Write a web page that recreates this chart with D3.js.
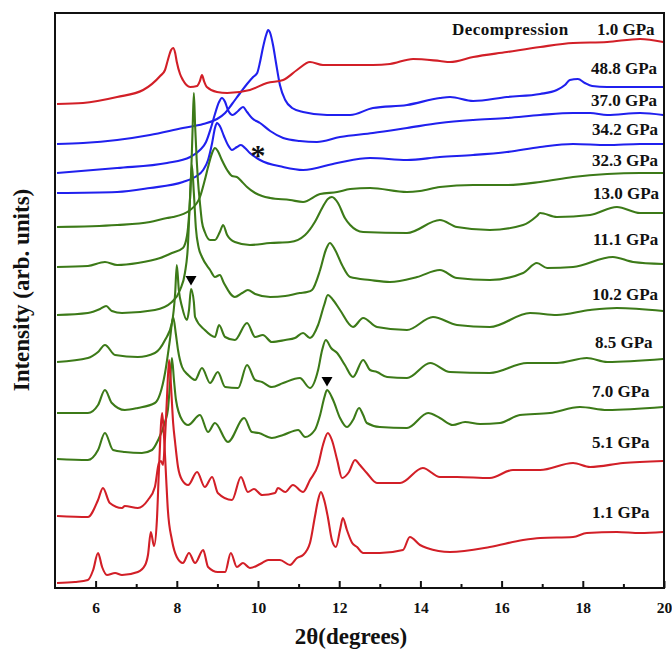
<!DOCTYPE html>
<html>
<head>
<meta charset="utf-8">
<script src="https://cdn.jsdelivr.net/npm/d3@7"></script>
<style>
  html, body { margin: 0; padding: 0; background: #fff; }
  svg { display: block; }
  text { font-family: "Liberation Serif", "Times New Roman", serif; font-weight: bold; fill: #111; }
</style>
</head>
<body>
<svg id="chart" width="672" height="652"></svg>
<script>
// ---- Data: XRD patterns, [2θ (deg), stacked intensity (arb. units)] ----
const p1_1 = [[5.05,5],[5.49,6],[5.81,8],[5.94,18],[6.06,35],[6.16,21],[6.28,13],[6.48,15],[6.65,13],[7.04,16],[7.22,23],[7.29,33],[7.36,56],[7.44,42],[7.51,68],[7.56,118],[7.64,175],[7.69,148],[7.74,108],[7.78,78],[7.88,48],[8.0,31],[8.15,25],[8.3,35],[8.45,25],[8.65,38],[8.77,21],[9.01,16],[9.19,16],[9.33,35],[9.48,21],[9.63,25],[9.8,20],[10.1,25],[10.25,28],[10.54,28],[10.79,23],[10.96,30],[11.11,33],[11.28,45],[11.4,71],[11.48,88],[11.55,96],[11.63,88],[11.72,71],[11.82,48],[11.92,41],[12.02,58],[12.09,70],[12.19,58],[12.32,45],[12.44,41],[12.59,35],[13.0,35],[13.57,38],[13.74,51],[13.99,43],[14.16,40],[14.73,36],[15.71,41],[16.53,48],[16.95,50],[17.76,51],[18.1,55],[18.84,56],[19.41,55],[19.98,56]];

const p5_1 = [[5.05,72],[5.81,71],[6.06,88],[6.18,100],[6.35,85],[6.65,80],[6.72,82],[7.04,80],[7.29,88],[7.46,101],[7.56,125],[7.61,127],[7.66,123],[7.71,150],[7.76,192],[7.81,228],[7.86,200],[7.91,165],[7.96,145],[8.03,121],[8.13,108],[8.28,103],[8.5,116],[8.69,101],[8.87,111],[9.01,95],[9.36,88],[9.58,111],[9.75,96],[9.9,99],[10.1,93],[10.42,95],[10.49,100],[10.67,96],[10.86,103],[11.11,96],[11.28,108],[11.48,123],[11.6,143],[11.72,155],[11.82,148],[11.95,128],[12.07,110],[12.24,116],[12.39,128],[12.51,123],[12.68,115],[12.93,105],[13.5,105],[14.06,120],[14.48,111],[14.9,111],[15.71,110],[16.28,118],[16.95,118],[17.76,125],[18.18,121],[18.99,125],[19.98,127]];

const p7_0 = [[5.05,129],[5.81,128],[6.06,138],[6.23,155],[6.43,138],[6.72,136],[7.14,135],[7.39,138],[7.54,148],[7.71,166],[7.78,178],[7.83,203],[7.88,230],[7.93,208],[7.98,188],[8.13,168],[8.28,163],[8.57,173],[8.77,156],[8.94,165],[9.26,146],[9.66,170],[9.85,156],[10.02,155],[10.34,150],[10.62,153],[10.99,158],[11.16,151],[11.4,158],[11.53,173],[11.63,190],[11.7,198],[11.85,188],[12.02,170],[12.19,161],[12.34,168],[12.49,180],[12.59,173],[12.68,165],[13.0,161],[13.67,160],[14.19,175],[14.48,170],[14.8,163],[15.1,166],[15.47,164],[15.96,165],[16.45,173],[17.19,175],[17.93,181],[18.6,178],[19.98,181]];

const p8_5 = [[5.05,175],[5.81,175],[6.06,183],[6.23,198],[6.4,185],[6.72,178],[7.04,180],[7.46,185],[7.71,215],[7.83,248],[7.91,271],[7.98,253],[8.03,238],[8.13,221],[8.28,213],[8.45,208],[8.62,220],[8.82,205],[9.01,216],[9.19,201],[9.51,200],[9.73,223],[9.93,208],[10.1,206],[10.34,201],[10.62,205],[11.03,210],[11.28,200],[11.48,218],[11.58,238],[11.67,248],[11.8,240],[11.95,235],[12.14,223],[12.34,211],[12.59,228],[12.76,218],[12.93,216],[13.18,211],[13.67,210],[14.24,225],[14.73,216],[15.71,215],[16.63,225],[17.36,225],[18.1,230],[18.6,226],[19.98,229]];

const p10_2 = [[5.05,226],[5.81,230],[6.06,236],[6.23,243],[6.48,233],[7.04,231],[7.46,235],[7.71,248],[7.88,265],[7.96,295],[8.0,323],[8.05,298],[8.13,281],[8.25,268],[8.3,278],[8.35,299],[8.42,286],[8.45,271],[8.69,258],[8.94,251],[9.04,263],[9.19,251],[9.43,248],[9.73,265],[9.93,251],[10.12,253],[10.34,246],[10.67,248],[10.91,250],[11.11,255],[11.28,250],[11.48,263],[11.63,283],[11.72,293],[11.85,288],[12.02,278],[12.34,261],[12.59,270],[12.93,261],[13.67,258],[14.31,271],[14.9,263],[15.71,261],[16.7,275],[17.36,273],[18.18,278],[18.84,280],[19.98,277]];

const p11_1 = [[5.05,273],[5.81,275],[6.11,279],[6.26,282],[6.4,277],[6.65,275],[7.46,278],[7.88,286],[8.08,298],[8.2,315],[8.27,340],[8.32,385],[8.37,423],[8.42,395],[8.47,360],[8.54,340],[8.62,331],[8.82,318],[8.94,311],[9.06,313],[9.16,305],[9.43,291],[9.61,295],[9.75,298],[9.93,294],[10.3,291],[10.67,292],[11.03,295],[11.21,296],[11.33,298],[11.53,318],[11.67,338],[11.77,345],[11.9,338],[12.07,323],[12.27,311],[12.76,308],[13.25,306],[13.92,311],[14.48,318],[14.9,310],[15.71,308],[16.53,315],[16.87,325],[17.12,320],[17.76,321],[18.74,331],[19.24,326],[19.98,324]];

const p13_0 = [[5.05,321],[5.81,322],[6.23,326],[6.53,323],[7.04,325],[7.59,330],[7.88,335],[8.15,340],[8.25,352],[8.3,372],[8.35,410],[8.39,460],[8.42,495],[8.45,463],[8.49,428],[8.52,408],[8.57,385],[8.62,366],[8.69,356],[8.82,348],[8.94,348],[9.06,356],[9.14,363],[9.24,353],[9.43,346],[9.8,343],[10.3,345],[10.79,346],[11.16,353],[11.4,366],[11.58,380],[11.72,389],[11.82,391],[11.97,385],[12.14,370],[12.27,363],[12.59,356],[13.67,355],[14.48,368],[14.9,361],[15.71,358],[16.53,363],[16.87,372],[16.95,375],[17.36,371],[18.18,373],[18.84,381],[19.41,375],[19.98,375]];

const p32_3 = [[5.05,361],[6.53,363],[7.34,366],[7.76,370],[7.91,371],[8.33,378],[8.57,391],[8.69,408],[8.77,421],[8.87,435],[8.94,440],[9.01,437],[9.11,428],[9.24,418],[9.36,412],[9.48,411],[9.61,406],[9.73,401],[9.93,395],[10.1,392],[10.3,390],[10.79,388],[11.11,386],[11.53,394],[11.95,396],[12.27,399],[12.76,400],[13.67,396],[13.99,397],[14.48,401],[15.3,403],[16.13,403],[16.95,406],[17.76,411],[18.6,414],[19.41,415],[19.98,415]];

const p34_2 = [[5.05,395],[6.53,396],[7.34,400],[8.15,406],[8.45,411],[8.65,418],[8.77,428],[8.87,445],[8.94,460],[8.99,465],[9.06,462],[9.16,452],[9.26,443],[9.36,438],[9.48,441],[9.58,443],[9.68,440],[9.8,435],[10.05,428],[10.62,421],[11.11,418],[11.95,425],[12.76,430],[13.67,428],[14.48,431],[15.3,433],[16.13,436],[16.95,441],[17.76,444],[18.6,443],[19.41,444],[19.98,444]];

const p37_0 = [[5.05,415],[6.53,420],[7.76,425],[8.33,431],[8.57,438],[8.72,446],[8.84,460],[8.94,474],[9.04,486],[9.11,490],[9.19,486],[9.26,478],[9.38,473],[9.51,477],[9.63,481],[9.73,476],[9.85,470],[10.05,465],[10.3,457],[10.62,450],[11.03,447],[11.45,446],[12.02,451],[12.83,455],[13.67,460],[14.48,465],[15.3,468],[16.13,470],[16.95,473],[17.76,475],[18.18,475],[18.6,473],[19.41,475],[19.98,473]];

const p48_8 = [[5.05,444],[5.69,445],[6.53,448],[7.34,453],[8.15,460],[8.65,464],[8.99,469],[9.19,475],[9.36,484],[9.56,495],[9.73,504],[9.88,511],[9.98,515],[10.05,526],[10.12,540],[10.2,553],[10.25,558],[10.3,555],[10.37,543],[10.44,526],[10.54,503],[10.67,488],[10.84,480],[11.11,476],[11.7,473],[12.27,473],[12.83,480],[13.67,483],[14.48,490],[14.73,491],[15.3,487],[16.13,491],[16.95,494],[17.36,498],[17.56,503],[17.68,508],[17.88,509],[18.05,505],[18.23,502],[18.6,501],[19.41,501],[19.98,501]];

const dec1_0 = [[5.05,484],[5.69,485],[6.53,491],[7.17,498],[7.59,512],[7.71,518],[7.78,528],[7.86,538],[7.91,540],[7.96,535],[8.0,526],[8.08,514],[8.15,508],[8.33,501],[8.5,502],[8.57,507],[8.62,513],[8.67,507],[8.74,501],[8.99,496],[9.24,495],[9.8,498],[10.22,505],[10.62,508],[10.96,518],[11.28,526],[11.6,523],[12.27,523],[12.83,523],[13.25,524],[13.82,529],[14.48,527],[14.73,526],[15.3,531],[16.13,536],[16.95,541],[17.76,545],[18.6,546],[19.41,549],[19.98,546]];

// pressure labels and phase of each pattern (bottom to top)
const pressureLabels = ["1.1 GPa","5.1 GPa","7.0 GPa","8.5 GPa","10.2 GPa","11.1 GPa","13.0 GPa","32.3 GPa","34.2 GPa","37.0 GPa","48.8 GPa","1.0 GPa"];
const phases = ["low","low","mid","mid","mid","mid","mid","mid","high","high","high","low"];
const patterns = [p1_1,p5_1,p7_0,p8_5,p10_2,p11_1,p13_0,p32_3,p34_2,p37_0,p48_8,dec1_0];

// peaks flagged with a down-pointing triangle: [2θ, intensity]
const markedPeaks = [[8.35,299],[11.7,198]];
// asterisk annotation position: [2θ, intensity]
const asteriskAt = [10.0, 437];

const majorTicks = [6,8,10,12,14,16,18,20];
const minorTicks = [7,9,11,13,15,17,19];

// ---- Styles / layout ----
const phaseColor = { low: "#d21f27", mid: "#3c7a18", high: "#2020ee" };
const drawOrder = ["high","mid","low"];
const labelX = [592,592,592,595,592,593,593,592,592,591,591,597];
const labelBaseline = [518,448,397,348,300,245,199,166,135,106,74,35];

const svg = d3.select("#chart");
const plotL = 55, plotR = 664, plotT = 13, plotB = 588;

const x = d3.scaleLinear().domain([5, 20]).range([plotL, plotR]);
const y = d3.scaleLinear().domain([0, 575]).range([plotB, plotT]);

svg.append("defs").append("clipPath").attr("id", "plot")
  .append("rect").attr("x", plotL).attr("y", plotT).attr("width", plotR - plotL).attr("height", plotB - plotT);

const line = d3.line().x(d => x(d[0])).y(d => y(d[1])).curve(d3.curveMonotoneX);

const gCurves = svg.append("g").attr("clip-path", "url(#plot)");
drawOrder.forEach(ph => {
  patterns.forEach((pts, i) => {
    if (phases[i] !== ph) return;
    gCurves.append("path")
      .datum(pts)
      .attr("d", line)
      .attr("fill", "none")
      .attr("stroke", phaseColor[ph])
      .attr("stroke-width", 2.1)
      .attr("stroke-linejoin", "round");
  });
});

// triangle markers above flagged peaks
svg.append("g").selectAll("path").data(markedPeaks).join("path")
  .attr("d", d => {
    const cx = x(d[0]), cy = y(d[1]);
    return `M${cx - 5.5},${cy - 13}L${cx + 5.5},${cy - 13}L${cx},${cy - 3.5}Z`;
  })
  .attr("fill", "#000");

// asterisk
svg.append("text")
  .attr("x", x(asteriskAt[0])).attr("y", y(asteriskAt[1]) + 14)
  .attr("text-anchor", "middle")
  .style("font-size", "30px")
  .text("*");

// frame
svg.append("rect")
  .attr("x", plotL).attr("y", plotT).attr("width", plotR - plotL).attr("height", plotB - plotT)
  .attr("fill", "none").attr("stroke", "#111").attr("stroke-width", 2);

// x axis: inward major and minor ticks
const xAxis = d3.axisBottom(x).tickValues(majorTicks).tickSize(-7).tickPadding(14).tickFormat(d3.format("d"));
const gx = svg.append("g").attr("transform", `translate(0,${plotB})`).call(xAxis);
gx.select(".domain").remove();
gx.selectAll(".tick line").attr("stroke", "#111").attr("stroke-width", 2);
gx.selectAll(".tick text").style("font-size", "15.5px").style("font-family", "Liberation Serif").style("font-weight", "bold").attr("fill", "#111");

const gxm = svg.append("g").attr("transform", `translate(0,${plotB})`)
  .call(d3.axisBottom(x).tickValues(minorTicks).tickSize(-4).tickFormat(""));
gxm.select(".domain").remove();
gxm.selectAll(".tick line").attr("stroke", "#111").attr("stroke-width", 2);

// pressure labels
svg.append("g").selectAll("text").data(pressureLabels).join("text")
  .attr("x", (d, i) => labelX[i])
  .attr("y", (d, i) => labelBaseline[i])
  .style("font-size", "17px")
  .text(d => d);

svg.append("text")
  .attr("x", 452).attr("y", 35)
  .style("font-size", "17px")
  .style("letter-spacing", "0.5px")
  .text("Decompression");

// axis titles
svg.append("text")
  .attr("x", 351).attr("y", 644)
  .attr("text-anchor", "middle")
  .style("font-size", "23px")
  .text("2θ(degrees)");

svg.append("text")
  .attr("transform", "translate(29,290) rotate(-90)")
  .attr("text-anchor", "middle")
  .style("font-size", "23px")
  .text("Intensity (arb. units)");
</script>
</body>
</html>
